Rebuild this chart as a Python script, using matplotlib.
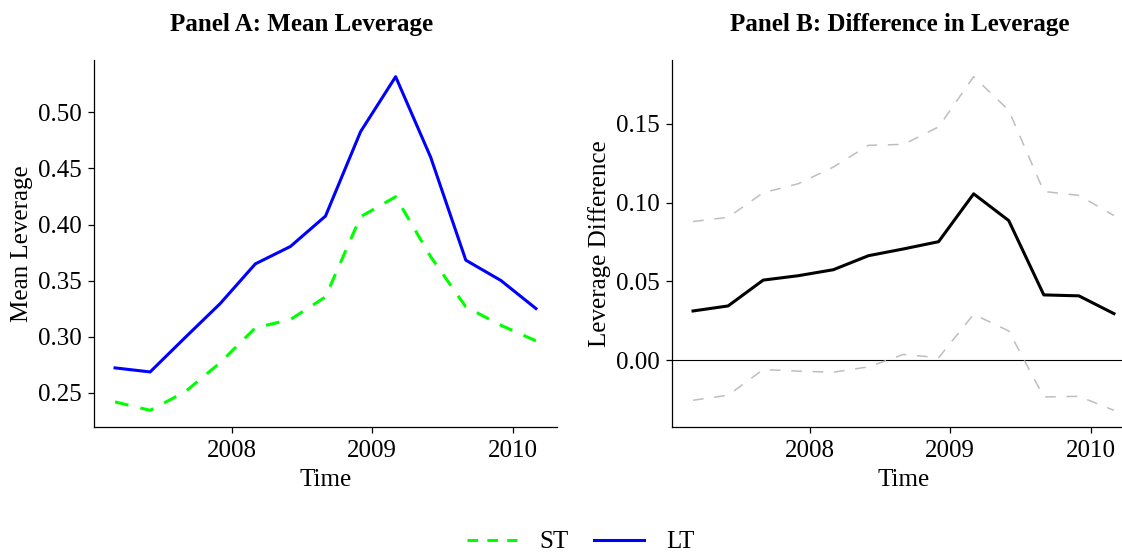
import numpy as np
import matplotlib
matplotlib.use("Agg")
import matplotlib.pyplot as plt
from matplotlib.lines import Line2D

plt.rcParams['font.family'] = ['Liberation Serif', 'DejaVu Serif']
plt.rcParams['font.size'] = 18

# quarterly observations, Mar 2007 .. Mar 2010, as decimal years
time = [2007.167, 2007.417, 2007.667, 2007.917, 2008.167, 2008.417, 2008.667,
        2008.917, 2009.167, 2009.417, 2009.667, 2009.917, 2010.167]

# Panel A: mean leverage by maturity group
lev_st = [0.242, 0.2345, 0.251, 0.277, 0.308, 0.3154, 0.3356,
          0.407, 0.4248, 0.3713, 0.3267, 0.3103, 0.2964]
lev_lt = [0.2723, 0.2687, 0.2994, 0.3297, 0.365, 0.3805, 0.4076,
          0.4828, 0.5318, 0.4599, 0.3683, 0.3502, 0.3252]

# Panel B: difference with confidence band
diff = [0.0312, 0.0344, 0.0508, 0.0536, 0.0574, 0.0663, 0.0706,
        0.0752, 0.1056, 0.0886, 0.0414, 0.0408, 0.0295]
diff_hi = [0.088, 0.0907, 0.1063, 0.112, 0.1226, 0.1364, 0.137,
           0.1481, 0.18, 0.1587, 0.1071, 0.1046, 0.0918]
diff_lo = [-0.0255, -0.0223, -0.006, -0.007, -0.0077, -0.0043, 0.0036,
           0.0015, 0.0291, 0.0185, -0.0234, -0.023, -0.0319]

years = [2008, 2009, 2010]

W, H = 1122, 552
fig = plt.figure(figsize=(W / 100, H / 100), dpi=100)


def px_axes(left, right, top, bottom):
    return fig.add_axes([left / W, 1 - bottom / H, (right - left) / W, (bottom - top) / H])


def style(ax, vals):
    for s in ['top', 'right']:
        ax.spines[s].set_visible(False)
    for s in ['left', 'bottom']:
        ax.spines[s].set_linewidth(0.9)
    ax.tick_params(direction='out', length=4.5, width=0.9, pad=4, labelsize=18)
    ax.tick_params(axis='x', pad=5)
    lo, hi = min(vals), max(vals)
    pad = (hi - lo) * 0.05
    ax.set_ylim(lo - pad, hi + pad)
    t0, t1 = min(time), max(time)
    xp = (t1 - t0) * 0.05
    ax.set_xlim(t0 - xp, t1 + xp)
    ax.set_xticks(years)
    ax.set_xticklabels([str(y) for y in years])
    ax.set_xlabel('Time', fontsize=18, labelpad=5)


# Panel A
ax1 = px_axes(94, 557, 60, 427)
ax1.plot(time, lev_st, color='#00FF00', lw=2.2, dashes=(4.5, 4), solid_capstyle='butt')
ax1.plot(time, lev_lt, color='#0000FF', lw=2.2)
style(ax1, lev_st + lev_lt)
ax1.set_yticks([0.25, 0.30, 0.35, 0.40, 0.45, 0.50])
ax1.set_yticklabels(['%.2f' % v for v in ax1.get_yticks()])
ax1.set_ylabel('Mean Leverage', fontsize=18, labelpad=4)
fig.text(302 / W, 1 - 25 / H, 'Panel A: Mean Leverage', ha='center', va='center',
         fontsize=18, fontweight='bold')

# Panel B
ax2 = px_axes(672, 1135, 60, 427)
ax2.axhline(0, color='black', lw=0.8)
ax2.plot(time, diff_hi, color='#BEBEBE', lw=1.1, dashes=(7, 7))
ax2.plot(time, diff_lo, color='#BEBEBE', lw=1.1, dashes=(7, 7))
ax2.plot(time, diff, color='black', lw=2.2)
style(ax2, diff_hi + diff_lo)
ax2.set_yticks([0.00, 0.05, 0.10, 0.15])
ax2.set_yticklabels(['%.2f' % v for v in ax2.get_yticks()])
ax2.set_ylabel('Leverage Difference', fontsize=18, labelpad=4)
fig.text(900 / W, 1 - 25 / H, 'Panel B: Difference in Leverage', ha='center', va='center',
         fontsize=18, fontweight='bold')

# shared legend
handles = [Line2D([], [], color='#00FF00', lw=2.2, dashes=(3.5, 3)),
           Line2D([], [], color='#0000FF', lw=2.2)]
fig.legend(handles, ['ST', 'LT'], loc='center', bbox_to_anchor=(581 / W, 1 - 542 / H),
           ncol=2, frameon=False, fontsize=18, handlelength=2.0,
           handletextpad=0.9, columnspacing=1.0)

fig.savefig('out.png', dpi=100)
